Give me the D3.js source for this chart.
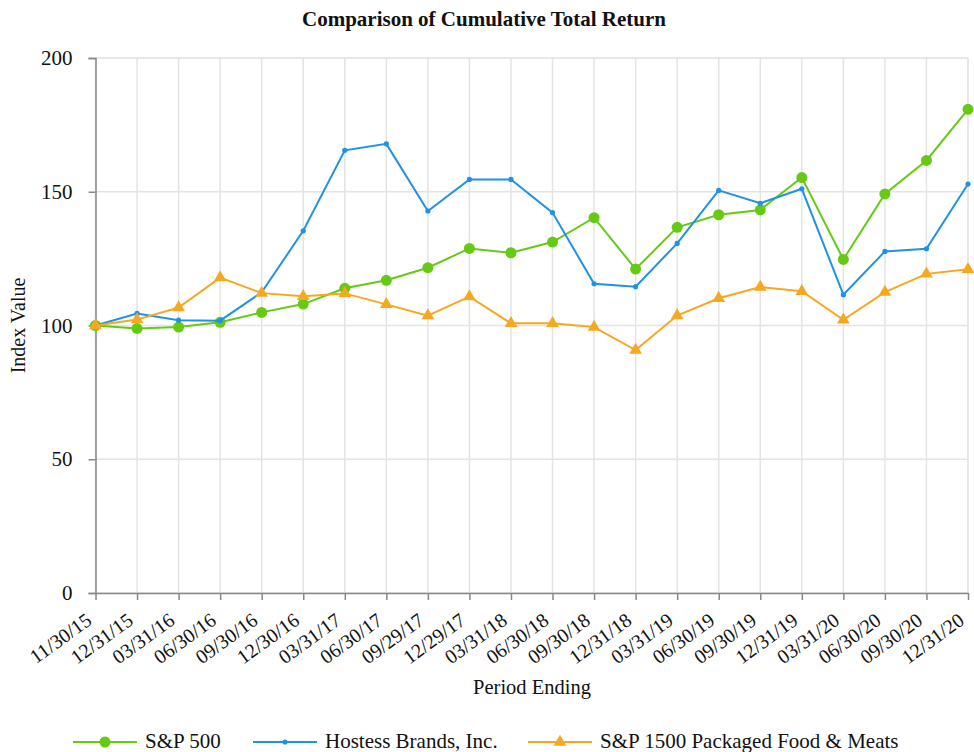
<!DOCTYPE html>
<html>
<head>
<meta charset="utf-8">
<script src="https://cdn.jsdelivr.net/npm/d3@7"></script>
<style>
  body { margin: 0; background: #fff; }
  svg text { font-family: "Liberation Serif", "Times New Roman", serif; fill: #111; }
</style>
</head>
<body>
<svg id="chart" width="974" height="752"></svg>
<script>
// periods (x axis)
const periods = ["11/30/15","12/31/15","03/31/16","06/30/16","09/30/16","12/30/16","03/31/17","06/30/17",
  "09/29/17","12/29/17","03/31/18","06/30/18","09/30/18","12/31/18","03/31/19","06/30/19",
  "09/30/19","12/31/19","03/31/20","06/30/20","09/30/20","12/31/20"];

const sp500 = [100, 98.9, 99.4, 101.2, 104.9, 108.0, 113.9, 116.9, 121.6, 128.8, 127.2, 131.2,
  140.3, 121.1, 136.7, 141.4, 143.2, 155.3, 124.7, 149.2, 161.7, 180.8];
const hostess = [100, 104.5, 102.0, 101.8, 112.4, 135.4, 165.5, 167.9, 142.8, 154.6, 154.6, 142.2,
  115.6, 114.5, 130.7, 150.5, 145.7, 151.1, 111.5, 127.7, 128.7, 152.9];
const packaged = [100, 102.2, 106.7, 117.9, 112.1, 110.9, 112.0, 107.9, 103.7, 110.8, 100.8, 100.8,
  99.4, 90.8, 103.7, 110.2, 114.4, 112.8, 102.1, 112.5, 119.3, 121.0];

const yTicks = [0, 50, 100, 150, 200];

const series = [
  {name: "S&P 500", values: sp500, color: "#66c914", marker: "circle"},
  {name: "Hostess Brands, Inc.", values: hostess, color: "#1f92e6", marker: "dot"},
  {name: "S&P 1500 Packaged Food & Meats", values: packaged, color: "#f6a821", marker: "triangle"}
];

const svg = d3.select("#chart");
const margin = {left: 95.5, right: 6, top: 58, bottom: 159};
const W = 974, H = 752;

const x = d3.scalePoint().domain(periods).range([margin.left, W - margin.right]);
const y = d3.scaleLinear().domain([0, 200]).range([H - margin.bottom, margin.top]);

// title
svg.append("text")
  .attr("x", 484).attr("y", 26)
  .attr("text-anchor", "middle")
  .style("font-size", "21px").style("font-weight", "bold")
  .text("Comparison of Cumulative Total Return");

// plot frame (light)
svg.append("rect")
  .attr("x", margin.left).attr("y", margin.top)
  .attr("width", W - margin.right - margin.left)
  .attr("height", y(0) - margin.top)
  .attr("fill", "none").attr("stroke", "#e4e4e4");

// grid lines
svg.append("g").selectAll("line.h")
  .data(yTicks).join("line")
  .attr("x1", margin.left).attr("x2", W - margin.right)
  .attr("y1", d => y(d)).attr("y2", d => y(d))
  .attr("stroke", "#e4e4e4").attr("stroke-width", 1.5);

svg.append("g").selectAll("line.v")
  .data(periods).join("line")
  .attr("x1", d => x(d)).attr("x2", d => x(d))
  .attr("y1", margin.top).attr("y2", y(0))
  .attr("stroke", "#e4e4e4").attr("stroke-width", 1.5);

// y axis
const yAxis = svg.append("g")
  .attr("transform", "translate(" + margin.left + ",0)")
  .call(d3.axisLeft(y).tickValues(yTicks).tickSize(7).tickPadding(16));
yAxis.select(".domain").attr("stroke", "#888").attr("stroke-width", 1.5);
yAxis.selectAll(".tick line").attr("stroke", "#888").attr("stroke-width", 1.5);
yAxis.selectAll(".tick text").style("font-size", "21px").style("font-family", "Liberation Serif").attr("fill", "#111");

// x axis
const xAxis = svg.append("g")
  .attr("transform", "translate(0," + y(0) + ")")
  .call(d3.axisBottom(x).tickSize(7).tickSizeOuter(0));
xAxis.select(".domain").attr("stroke", "#888").attr("stroke-width", 1.5);
xAxis.selectAll(".tick line").attr("stroke", "#888").attr("stroke-width", 1.5);
xAxis.selectAll(".tick text")
  .style("font-size", "20px").style("font-family", "Liberation Serif").attr("fill", "#111")
  .attr("text-anchor", "end")
  .attr("y", 0).attr("dy", "0")
  .attr("transform", "translate(-3,30) rotate(-36)");

// axis titles
svg.append("text")
  .attr("transform", "translate(25," + y(100) + ") rotate(-90)")
  .attr("text-anchor", "middle")
  .style("font-size", "20px")
  .text("Index Value");

svg.append("text")
  .attr("x", 532).attr("y", 694)
  .attr("text-anchor", "middle")
  .style("font-size", "20.5px")
  .text("Period Ending");

// lines and markers
const line = d3.line()
  .x((d, i) => x(periods[i]))
  .y(d => y(d));

const triangle = d3.symbol().type(d3.symbolTriangle).size(70);

function drawMarker(g, s, cx, cy) {
  if (s.marker === "circle") {
    g.append("circle").attr("cx", cx).attr("cy", cy).attr("r", 5.5).attr("fill", s.color);
  } else if (s.marker === "dot") {
    g.append("circle").attr("cx", cx).attr("cy", cy).attr("r", 2.6).attr("fill", s.color);
  } else {
    g.append("path").attr("d", triangle()).attr("transform", "translate(" + cx + "," + cy + ")").attr("fill", s.color);
  }
}

series.forEach(s => {
  const g = svg.append("g");
  g.append("path")
    .datum(s.values)
    .attr("d", line)
    .attr("fill", "none")
    .attr("stroke", s.color)
    .attr("stroke-width", 2);
  s.values.forEach((v, i) => drawMarker(g, s, x(periods[i]), y(v)));
});

// legend
const legendX = [73, 253, 528];
const legend = svg.append("g");
series.forEach((s, i) => {
  const lx = legendX[i], ly = 742;
  const g = legend.append("g");
  g.append("line")
    .attr("x1", lx).attr("x2", lx + 64)
    .attr("y1", ly).attr("y2", ly)
    .attr("stroke", s.color).attr("stroke-width", 2);
  drawMarker(g, s, lx + 32, ly);
  g.append("text")
    .attr("x", lx + 72).attr("y", ly + 6)
    .style("font-size", "21px")
    .text(s.name);
});
</script>
</body>
</html>
